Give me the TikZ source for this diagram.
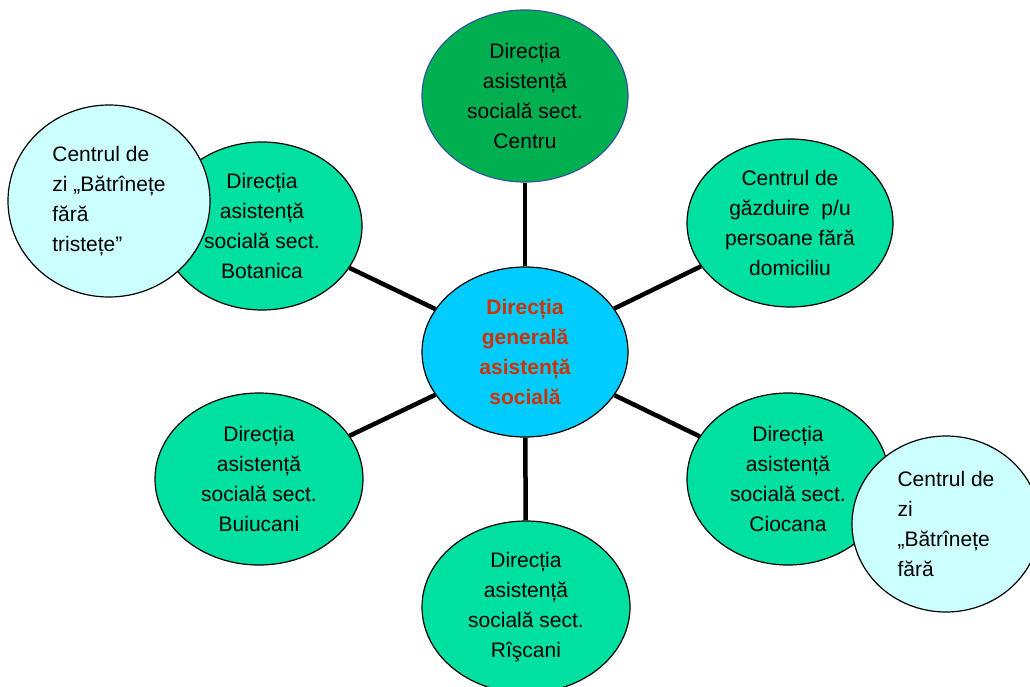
\documentclass[tikz,border=0pt]{standalone}
\usepackage{fontspec}
\setmainfont{Liberation Sans}
\usetikzlibrary{shapes.geometric}
\definecolor{secgreen}{RGB}{0,224,160}
\definecolor{topgreen}{RGB}{0,176,80}
\definecolor{topedge}{RGB}{47,85,151}
\definecolor{hubblue}{RGB}{0,204,255}
\definecolor{hubred}{RGB}{204,51,0}
\definecolor{daycyan}{RGB}{204,255,255}

\begin{document}
\begin{tikzpicture}
[x=1pt, y=-1pt,
sector/.style={ellipse, draw=black, line width=1.2pt, fill=secgreen,
minimum width=206pt, minimum height=170pt, inner sep=0pt, align=center,
font=\fontsize{21}{30}\selectfont},
hub/.style={sector, fill=hubblue, text=hubred,
font=\bfseries\fontsize{21}{30}\selectfont},
daycentre/.style={sector, fill=daycyan, align=left},
spoke/.style={line width=4.5pt}]
\clip (0,0) rectangle (1030,687);
\node[hub] (hub) at (525,352) {Direcția\\generală\\asistență\\socială};
\node[sector, fill=topgreen, draw=topedge, minimum height=172pt] (centru) at (525,96) {Direcția\\asistență\\socială sect.\\Centru};
\node[sector, minimum height=168pt] (gazduire) at (790,223) {Centrul de\\găzduire~~p/u\\persoane fără\\domiciliu};
\node[sector, minimum width=200pt, minimum height=168pt] (botanica) at (262,226) {Direcția\\asistență\\socială sect.\\Botanica};
\node[daycentre, minimum width=202pt, minimum height=192pt] (zibotanica) at (109,201) {Centrul de\\zi „Bătrînețe\\fără\\tristețe”};
\node[sector, minimum width=208pt, minimum height=172pt] (buiucani) at (259,479) {Direcția\\asistență\\socială sect.\\Buiucani};
\node[sector, minimum width=202pt, minimum height=172pt] (ciocana) at (788,479) {Direcția\\asistență\\socială sect.\\Ciocana};
\node[daycentre, minimum width=188pt, minimum height=176pt] (ziciocana) at (946,524) {Centrul de\\zi\\„Bătrînețe\\fără};
\node[sector, minimum width=208pt, minimum height=172pt] (riscani) at (526,607) {Direcția\\asistență\\socială sect.\\Rîşcani};

\draw[spoke] (hub) edge (centru)
             edge (gazduire)
             edge (botanica)
             edge (buiucani)
             edge (ciocana)
             edge (riscani);
\end{tikzpicture}
\end{document}
